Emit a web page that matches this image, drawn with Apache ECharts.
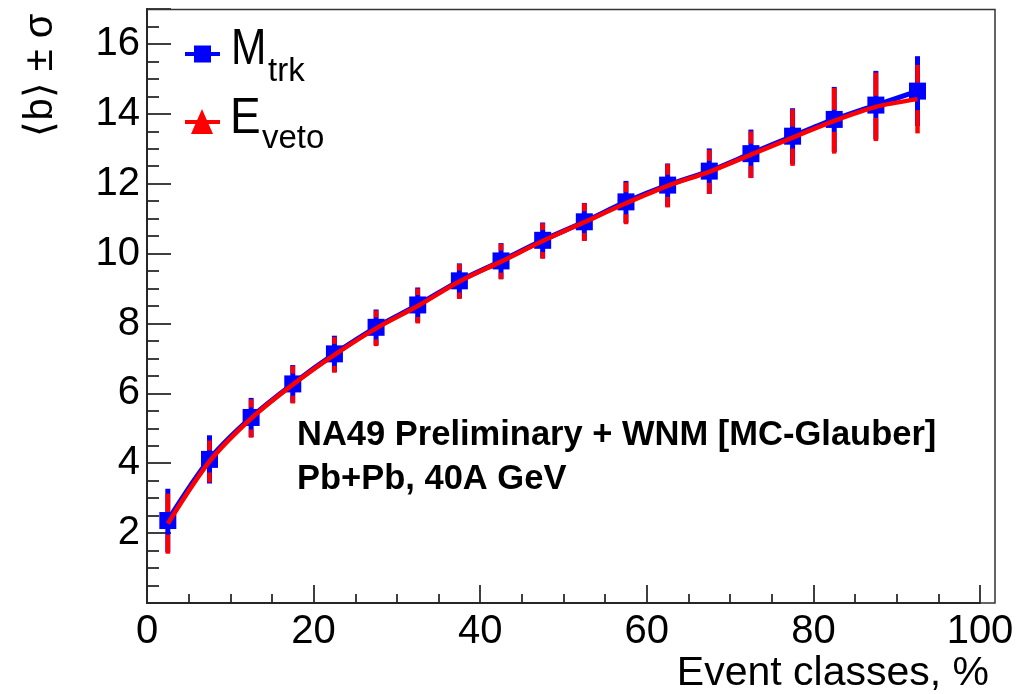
<!DOCTYPE html>
<html>
<head>
<meta charset="utf-8">
<script src="https://cdn.jsdelivr.net/npm/echarts@6/dist/echarts.min.js"></script>
<style>
  html, body { margin: 0; padding: 0; background: #ffffff; }
  #chart { width: 1028px; height: 694px; }
</style>
</head>
<body>
<div id="chart"></div>
<script>
// Centrality classes (bin centres, %)
const eventClass = [2.5, 7.5, 12.5, 17.5, 22.5, 27.5, 32.5, 37.5, 42.5, 47.5,
                    52.5, 57.5, 62.5, 67.5, 72.5, 77.5, 82.5, 87.5, 92.5];

// Mean impact parameter <b> and its spread sigma, classes from track multiplicity
const bMtrk   = [2.36, 4.11, 5.31, 6.27, 7.13, 7.89, 8.53, 9.22, 9.79, 10.38,
                 10.91, 11.48, 11.96, 12.36, 12.86, 13.36, 13.84, 14.25, 14.65];
const sigMtrk = [0.91, 0.69, 0.56, 0.54, 0.52, 0.51, 0.50, 0.50, 0.51, 0.51,
                 0.54, 0.60, 0.62, 0.65, 0.69, 0.80, 0.93, 0.98, 1.00];

// Same quantities, classes from veto calorimeter energy
const bEveto   = [2.27, 4.05, 5.28, 6.25, 7.10, 7.86, 8.50, 9.20, 9.77, 10.36,
                  10.90, 11.44, 11.94, 12.34, 12.83, 13.32, 13.80, 14.20, 14.42];
const sigEveto = [0.86, 0.60, 0.55, 0.54, 0.51, 0.51, 0.50, 0.50, 0.51, 0.51,
                  0.54, 0.60, 0.62, 0.63, 0.67, 0.81, 0.94, 0.98, 0.98];

const FONT = "'Liberation Sans', Arial, Helvetica, sans-serif";
const BLUE = '#0000ff';
const RED = '#ff0000';

function pairs(xs, ys) { return xs.map((x, i) => [x, ys[i]]); }

// Vertical error bars; an optional gap (px) is left around the point itself
function errorBars(name, xs, ys, errs, color, width, gap, z) {
  return {
    type: 'custom',
    name: name,
    z: z,
    silent: true,
    clip: false,
    data: xs.map((x, i) => [x, ys[i] - errs[i], ys[i] + errs[i], ys[i]]),
    encode: { x: 0, y: [1, 2] },
    renderItem: function (params, api) {
      const lo = api.coord([api.value(0), api.value(1)]);
      const hi = api.coord([api.value(0), api.value(2)]);
      const c = api.coord([api.value(0), api.value(3)]);
      const style = { stroke: color, lineWidth: width, lineCap: 'butt' };
      if (!gap) {
        return { type: 'line', shape: { x1: lo[0], y1: lo[1], x2: hi[0], y2: hi[1] }, style: style };
      }
      const kids = [];
      if (hi[1] < c[1] - gap) {
        kids.push({ type: 'line', shape: { x1: hi[0], y1: hi[1], x2: c[0], y2: c[1] - gap }, style: style });
      }
      if (lo[1] > c[1] + gap) {
        kids.push({ type: 'line', shape: { x1: c[0], y1: c[1] + gap, x2: lo[0], y2: lo[1] }, style: style });
      }
      return { type: 'group', children: kids };
    }
  };
}

const chart = echarts.init(document.getElementById('chart'), null, { renderer: 'canvas' });

const axisBlack = { color: '#000000', width: 2 };

function label(x, y, text, font, align, sx) {
  return { type: 'text', z: 50, x: x, y: y, scaleX: sx || 1,
           style: { text: text, font: font, fill: '#000', align: align || 'left', verticalAlign: 'middle' } };
}

const option = {
  backgroundColor: '#ffffff',
  animation: false,
  grid: { left: 147, right: 48, top: 9, bottom: 91, containLabel: false },
  xAxis: [{
    type: 'value',
    min: 0, max: 100, interval: 20,
    position: 'bottom',
    axisLine: { show: true, onZero: false, lineStyle: axisBlack },
    axisTick: { show: true, inside: true, length: 18, lineStyle: { color: '#000', width: 1.5 } },
    minorTick: { show: true, splitNumber: 4, length: 9, lineStyle: { color: '#000', width: 1.5 } },
    splitLine: { show: false },
    axisLabel: { show: true, margin: 9, color: '#000', fontSize: 40, fontFamily: FONT }
  }],
  yAxis: [{
    type: 'value',
    min: 0, max: 17, interval: 2,
    position: 'left',
    axisLine: { show: true, onZero: false, lineStyle: axisBlack },
    axisTick: { show: true, inside: true, length: 24, lineStyle: { color: '#000', width: 1.5 } },
    splitLine: { show: false },
    axisLabel: {
      show: true, margin: 7, color: '#000', fontSize: 40, fontFamily: FONT,
      formatter: function (v) { return (v === 0 || v % 2 !== 0) ? '' : String(v); }
    }
  }, {
    // minor ticks every 0.5
    type: 'value',
    min: 0, max: 17, interval: 0.5,
    position: 'left',
    axisLine: { show: false },
    axisTick: { show: true, inside: true, length: 12, lineStyle: { color: '#000', width: 1.5 } },
    splitLine: { show: false },
    axisLabel: { show: false }
  }],
  series: [
    {
      name: 'Mtrk line', type: 'line', z: 1,
      data: pairs(eventClass, bMtrk),
      showSymbol: false, symbol: 'none', smooth: 0.3,
      lineStyle: { color: BLUE, width: 5 }
    },
    errorBars('Mtrk sigma', eventClass, bMtrk, sigMtrk, BLUE, 5, 0, 2),
    errorBars('Eveto sigma', eventClass, bEveto, sigEveto, RED, 4.5, 11, 3),
    {
      name: 'Mtrk', type: 'scatter', z: 4,
      data: pairs(eventClass, bMtrk),
      symbol: 'rect', symbolSize: 17,
      itemStyle: { color: BLUE, opacity: 1 }
    },
    {
      name: 'Eveto', type: 'line', z: 5,
      data: pairs(eventClass, bEveto),
      showSymbol: false, symbol: 'none', smooth: 0.3,
      lineStyle: { color: RED, width: 4.5 }
    }
  ],
  graphic: [
    // frame
    { type: 'rect', z: 50, silent: true,
      shape: { x: 147, y: 9.5, width: 848, height: 593.5 },
      style: { fill: null, stroke: '#333', lineWidth: 1.5 } },
    // y title
    { type: 'text', z: 50, x: 41, y: 75, rotation: Math.PI / 2,
      style: { text: '\u27E8b\u27E9 \u00B1 \u03C3', font: '40px ' + FONT, fill: '#000',
               align: 'center', verticalAlign: 'middle' } },
    // x title
    label(989, 674, 'Event classes, %', '41px ' + FONT, 'right'),
    // legend: M_trk
    { type: 'line', z: 50, shape: { x1: 185, y1: 54, x2: 220, y2: 54 },
      style: { stroke: BLUE, lineWidth: 4 } },
    { type: 'rect', z: 51, shape: { x: 194, y: 45.5, width: 17, height: 17 },
      style: { fill: BLUE } },
    label(231, 50, 'M', '50px ' + FONT, 'left', 0.85),
    label(268, 72, 'trk', '33px ' + FONT),
    // legend: E_veto
    { type: 'line', z: 50, shape: { x1: 185, y1: 122, x2: 220, y2: 122 },
      style: { stroke: RED, lineWidth: 4 } },
    { type: 'polygon', z: 51, shape: { points: [[202, 109], [213, 134], [191, 134]] },
      style: { fill: RED } },
    label(230, 119, 'E', '50px ' + FONT, 'left', 0.92),
    label(262, 139, 'veto', '33px ' + FONT),
    // text block
    label(297, 435, 'NA49 Preliminary + WNM [MC-Glauber]', 'bold 34.5px ' + FONT),
    label(297, 479, 'Pb+Pb, 40A GeV', 'bold 34.5px ' + FONT)
  ]
};

chart.setOption(option);
</script>
</body>
</html>
